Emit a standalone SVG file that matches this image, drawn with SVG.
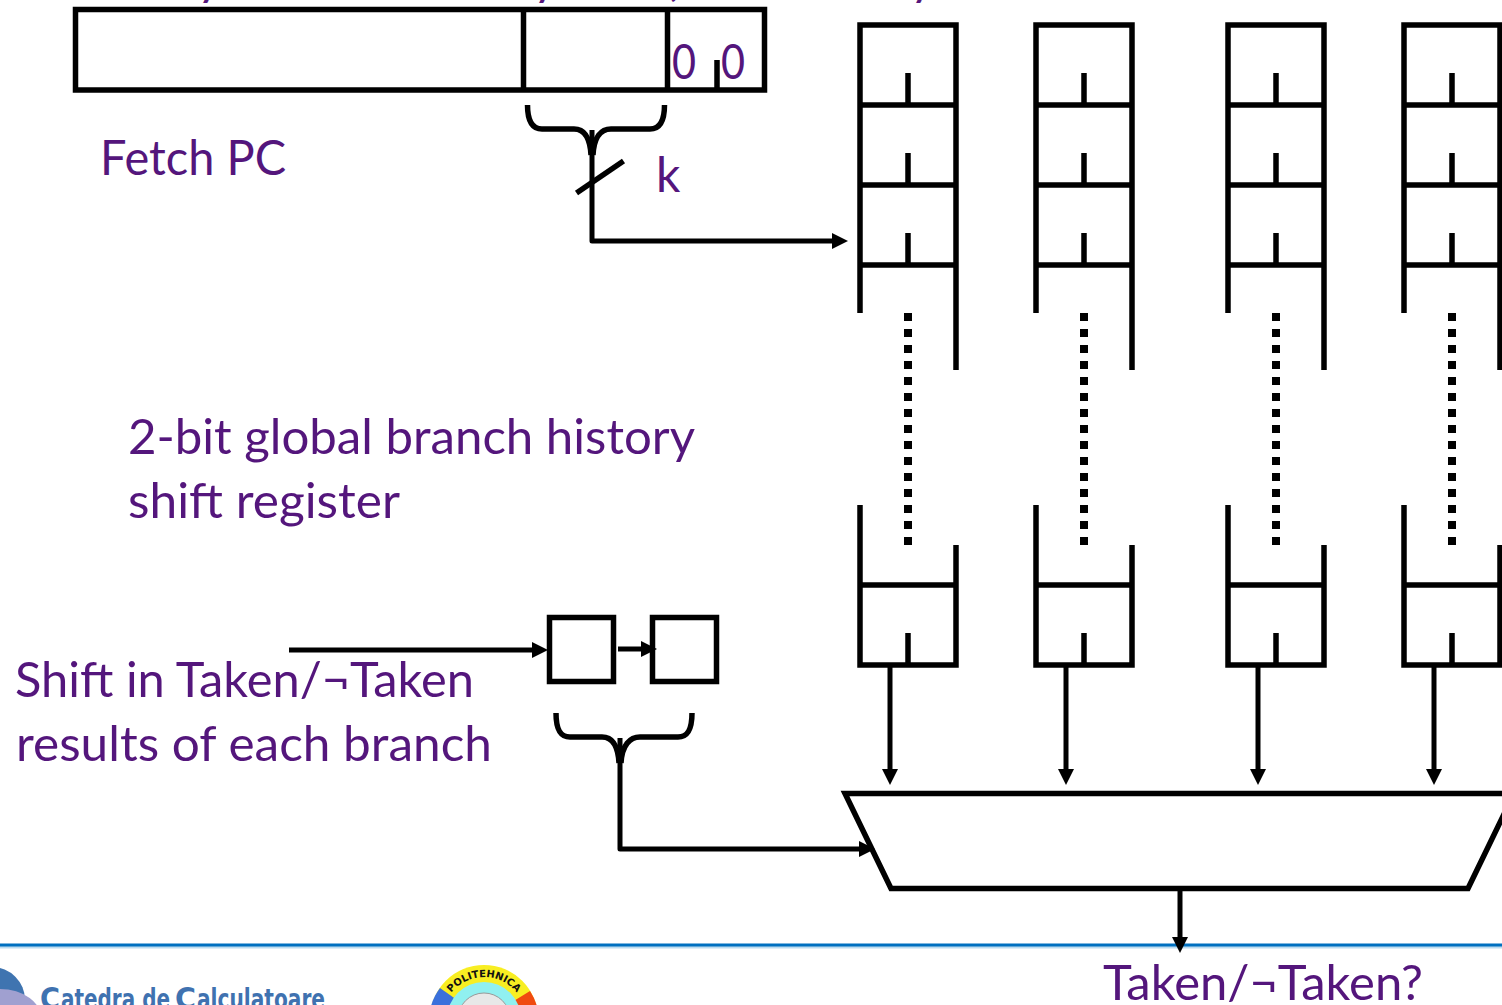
<svg xmlns="http://www.w3.org/2000/svg" width="1502" height="1005" viewBox="0 0 1502 1005">
<style>
.s{fill:none;stroke:#000;stroke-width:5.500}
.c{fill:none;stroke:#000;stroke-width:5;stroke-linejoin:round}
.t{font-family:"Lato","Carlito","Liberation Sans",sans-serif;font-size:48px;fill:#54167c}
.lg{font-family:"DejaVu Sans",sans-serif;font-weight:700;fill:#3f72b0;font-size:28px}
.lc{font-size:31px}
</style>
<defs>
<marker id="a" markerUnits="userSpaceOnUse" markerWidth="16" markerHeight="16" refX="1" refY="8" orient="auto"><path d="M0 0L16 8L0 16Z" fill="#000"/></marker>
<g id="stack">
<path class="s" d="M0 313V25H96V370M-2.500 105H98.500M-2.500 185H98.500M-2.500 265H98.500M48 73V105M48 153V185M48 233V265"/>
<path d="M48 313V545" fill="none" stroke="#000" stroke-width="8" stroke-dasharray="8 8"/>
<path class="s" d="M0 505V665H96V545M-2.500 585H98.500M48 633V665"/>
</g>
<path id="pa" d="M26 0A42 42 0 0 1 110 0" fill="none"/>
</defs>
<rect width="1502" height="1005" fill="#fff"/>

<g id="clipped-title" class="t">
<text x="197" y="-5">y</text>
<text x="533" y="-5">y</text>
<text x="664" y="-5">(</text>
<text x="910" y="-5">y</text>
</g>

<g id="fetch-pc">
<rect class="s" x="75.500" y="9.500" width="689" height="80.500"/>
<path class="s" d="M523.500 9.500V90M667.500 9.500V90M717 60V90"/>
<text class="t" x="672" y="79" textLength="24" lengthAdjust="spacingAndGlyphs">0</text>
<text class="t" x="721" y="79" textLength="24" lengthAdjust="spacingAndGlyphs">0</text>
</g>
<text id="fetch-label" class="t" x="100" y="175" textLength="186" lengthAdjust="spacingAndGlyphs">Fetch PC</text>
<text id="k-label" class="t" x="656" y="192">k</text>
<g id="history-label" class="t">
<text x="128" y="454" textLength="567" lengthAdjust="spacingAndGlyphs">2-bit global branch history</text>
<text x="128" y="518" textLength="272" lengthAdjust="spacingAndGlyphs">shift register</text>
</g>
<g id="shift-label" class="t">
<text x="15" y="697" textLength="459" lengthAdjust="spacingAndGlyphs">Shift in Taken/¬Taken</text>
<text x="16" y="761" textLength="476" lengthAdjust="spacingAndGlyphs">results of each branch</text>
</g>

<g id="stack-1"><use href="#stack" x="860"/></g>
<g id="stack-2"><use href="#stack" x="1036"/></g>
<g id="stack-3"><use href="#stack" x="1228"/></g>
<g id="stack-4"><use href="#stack" x="1404"/></g>

<g id="shift-register">
<rect class="s" x="549.500" y="617.500" width="64" height="64"/>
<rect class="s" x="652.500" y="617.500" width="64" height="64"/>
</g>

<g id="mux"><path class="s" d="M845 793.500H1514L1468 888.500H891Z"/></g>

<g id="footer-rule">
<path d="M0 947H1502" stroke="#bcdcf0" stroke-width="3"/>
<path d="M0 945H1502" stroke="#0070c0" stroke-width="3"/>
</g>

<g id="connectors">
<path class="c" d="M592 130V241H833" marker-end="url(#a)"/>
<path class="s" d="M576.500 193L623.500 161"/>
<path class="s" d="M527.500 105C527.500 121 532 129 542 129H574C584 129 590 137 591 155"/>
<path class="s" d="M664.500 105C664.500 121 660 129 650 129H611C601 129 594 137 593 155"/>
<path class="c" d="M289 650H533" marker-end="url(#a)"/>
<path class="c" d="M618 649H642" marker-end="url(#a)"/>
<path class="s" d="M556 713C556 729 560 737 570 737H602C612 737 618 745 619 763"/>
<path class="s" d="M692 713C692 729 688 737 678 737H640C630 737 622 745 621 763"/>
<path class="c" d="M620 738V849H860" marker-end="url(#a)"/>
<path class="c" d="M890 665V770" marker-end="url(#a)"/>
<path class="c" d="M1066 665V770" marker-end="url(#a)"/>
<path class="c" d="M1258 665V770" marker-end="url(#a)"/>
<path class="c" d="M1434 665V770" marker-end="url(#a)"/>
<path class="c" d="M1180 889V938" marker-end="url(#a)"/>
</g>

<text id="result-label" class="t" x="1103" y="1000" textLength="320" lengthAdjust="spacingAndGlyphs">Taken/¬Taken?</text>

<g id="logo-catedra">
<circle cx="-8" cy="1000" r="33" fill="#3f74b0"/>
<ellipse cx="0" cy="1020" rx="42" ry="31" fill="#a0a0d0"/>
<text class="lg lc" x="40" y="1009" textLength="20" lengthAdjust="spacingAndGlyphs">C</text>
<text class="lg" x="61" y="1009" textLength="109" lengthAdjust="spacingAndGlyphs">atedra de</text>
<text class="lg lc" x="175" y="1009" textLength="21" lengthAdjust="spacingAndGlyphs">C</text>
<text class="lg" x="197" y="1009" textLength="128" lengthAdjust="spacingAndGlyphs">alculatoare</text>
</g>

<g id="logo-politehnica">
<circle cx="484" cy="1019" r="54" fill="#f8ee22"/>
<path d="M484 1019L429 1019A55 55 0 0 1 440 988Z" fill="#3a70dc"/>
<path d="M484 1019L539 1019A55 55 0 0 0 530 991Z" fill="#f04a10"/>
<circle cx="484" cy="1019" r="37" fill="#90f0f0"/>
<circle cx="484" cy="1019" r="26" fill="#e8e8e8" stroke="#999"/>
<text font-family="'DejaVu Sans',sans-serif" font-weight="700" font-size="10" fill="#111" transform="translate(416,1019)"><textPath href="#pa" startOffset="50%" text-anchor="middle">POLITEHNICA</textPath></text>
</g>
</svg>
